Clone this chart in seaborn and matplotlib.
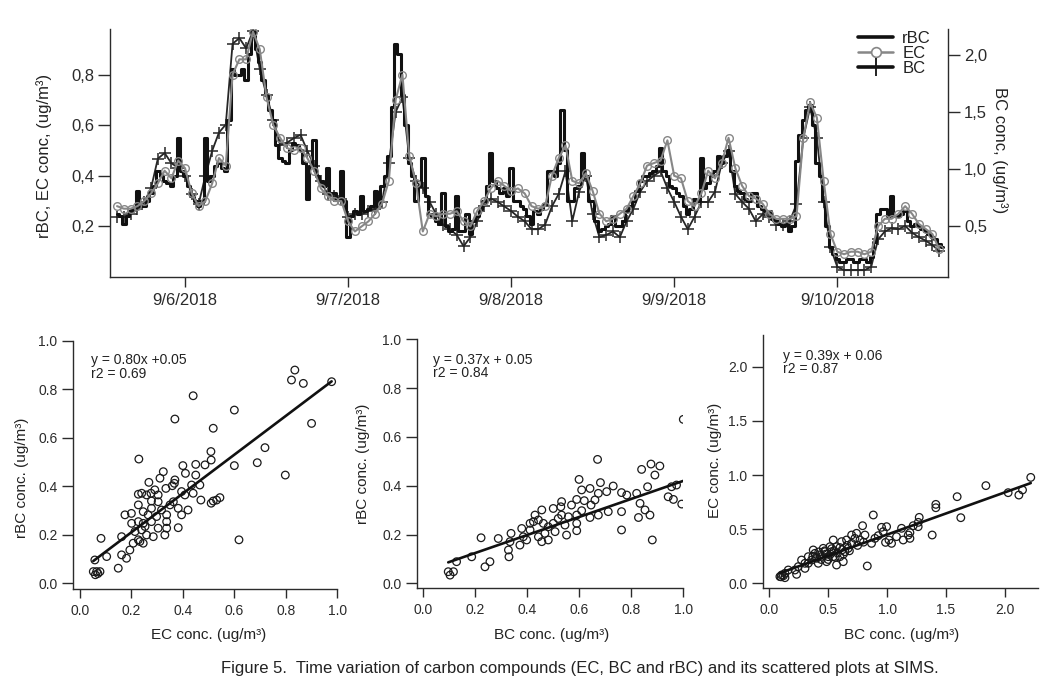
import numpy as np
import pandas as pd
import matplotlib
matplotlib.use("Agg")
import matplotlib.pyplot as plt
import matplotlib.dates as mdates
from matplotlib.lines import Line2D
from matplotlib.ticker import FixedLocator, FuncFormatter
import seaborn as sns

# ---------------- data ----------------
start_time = "2018-09-05 14:00"   # EC and BC hourly (122 pts), rBC half-hourly (244 pts)

rbc = [0.25, 0.24, 0.21, 0.24, 0.26, 0.27, 0.34, 0.28, 0.28, 0.30,
       0.33, 0.36, 0.42, 0.40, 0.38, 0.37, 0.36, 0.40, 0.55, 0.42,
       0.40, 0.36, 0.32, 0.30, 0.28, 0.30, 0.55, 0.38, 0.40, 0.44,
       0.45, 0.43, 0.42, 0.62, 0.82, 0.80, 0.80, 0.82, 0.78, 0.88,
       0.97, 0.90, 0.85, 0.78, 0.72, 0.66, 0.62, 0.52, 0.47, 0.46,
       0.45, 0.50, 0.53, 0.52, 0.50, 0.45, 0.31, 0.44, 0.54, 0.40,
       0.38, 0.36, 0.43, 0.33, 0.33, 0.31, 0.42, 0.30, 0.16, 0.24,
       0.26, 0.25, 0.32, 0.26, 0.27, 0.28, 0.34, 0.28, 0.36, 0.40,
       0.48, 0.67, 0.92, 0.88, 0.72, 0.60, 0.45, 0.40, 0.30, 0.36,
       0.47, 0.32, 0.25, 0.24, 0.22, 0.21, 0.33, 0.20, 0.18, 0.19,
       0.32, 0.18, 0.18, 0.25, 0.17, 0.22, 0.24, 0.27, 0.30, 0.36,
       0.49, 0.38, 0.35, 0.33, 0.35, 0.32, 0.43, 0.30, 0.30, 0.28,
       0.27, 0.24, 0.21, 0.26, 0.25, 0.27, 0.29, 0.42, 0.42, 0.40,
       0.45, 0.66, 0.50, 0.30, 0.30, 0.35, 0.36, 0.49, 0.40, 0.30,
       0.30, 0.22, 0.18, 0.19, 0.20, 0.21, 0.24, 0.20, 0.20, 0.22,
       0.26, 0.28, 0.30, 0.34, 0.38, 0.40, 0.40, 0.41, 0.42, 0.44,
       0.51, 0.42, 0.40, 0.36, 0.35, 0.33, 0.32, 0.28, 0.25, 0.27,
       0.31, 0.30, 0.47, 0.35, 0.37, 0.40, 0.42, 0.48, 0.45, 0.48,
       0.50, 0.42, 0.36, 0.34, 0.33, 0.31, 0.30, 0.33, 0.33, 0.28,
       0.27, 0.26, 0.26, 0.23, 0.22, 0.21, 0.20, 0.21, 0.18, 0.20,
       0.46, 0.56, 0.62, 0.66, 0.68, 0.60, 0.45, 0.40, 0.30, 0.20,
       0.12, 0.09, 0.07, 0.06, 0.06, 0.07, 0.07, 0.06, 0.06, 0.07,
       0.07, 0.06, 0.08, 0.14, 0.25, 0.27, 0.27, 0.24, 0.32, 0.24,
       0.24, 0.25, 0.26, 0.22, 0.20, 0.21, 0.20, 0.19, 0.18, 0.17,
       0.16, 0.15, 0.13, 0.12]

ec = [0.28, 0.27, 0.27, 0.28, 0.30, 0.33, 0.37, 0.42, 0.39, 0.46,
      0.43, 0.33, 0.28, 0.30, 0.37, 0.47, 0.44, 0.80, 0.86, 0.86,
      0.97, 0.90, 0.71, 0.60, 0.55, 0.51, 0.50, 0.51, 0.47, 0.42,
      0.35, 0.32, 0.30, 0.30, 0.22, 0.18, 0.20, 0.22, 0.25, 0.29,
      0.38, 0.70, 0.80, 0.48, 0.37, 0.18, 0.25, 0.24, 0.25, 0.25,
      0.26, 0.22, 0.20, 0.26, 0.30, 0.35, 0.38, 0.36, 0.34, 0.35,
      0.33, 0.28, 0.27, 0.28, 0.40, 0.47, 0.52, 0.38, 0.37, 0.41,
      0.34, 0.25, 0.22, 0.23, 0.25, 0.27, 0.32, 0.37, 0.44, 0.45,
      0.46, 0.54, 0.40, 0.39, 0.30, 0.28, 0.33, 0.42, 0.39, 0.45,
      0.55, 0.43, 0.36, 0.32, 0.31, 0.29, 0.25, 0.23, 0.23, 0.23,
      0.24, 0.55, 0.69, 0.63, 0.38, 0.17, 0.10, 0.09, 0.10, 0.10,
      0.09, 0.10, 0.20, 0.23, 0.23, 0.25, 0.28, 0.25, 0.21, 0.19,
      0.17, 0.11]

bc = [0.58, 0.58, 0.60, 0.65, 0.71, 0.83, 1.09, 1.14, 1.05, 1.01,
      0.94, 0.78, 0.69, 0.94, 1.16, 1.32, 1.39, 2.10, 2.15, 2.06,
      2.21, 1.88, 1.65, 1.43, 1.21, 1.23, 1.27, 1.30, 1.16, 1.03,
      0.89, 0.78, 0.76, 0.74, 0.58, 0.60, 0.60, 0.63, 0.65, 0.71,
      1.05, 1.50, 1.63, 1.10, 0.89, 0.83, 0.71, 0.60, 0.51, 0.47,
      0.42, 0.32, 0.40, 0.54, 0.67, 0.74, 0.71, 0.67, 0.63, 0.58,
      0.54, 0.47, 0.47, 0.51, 0.67, 0.78, 0.98, 0.54, 0.80, 0.94,
      0.60, 0.40, 0.42, 0.45, 0.40, 0.54, 0.65, 0.80, 0.89, 0.94,
      0.98, 0.83, 0.71, 0.58, 0.47, 0.58, 0.71, 0.71, 0.80, 1.05,
      1.16, 0.78, 0.71, 0.65, 0.54, 0.60, 0.58, 0.51, 0.51, 0.54,
      0.69, 1.27, 1.54, 1.27, 0.71, 0.31, 0.14, 0.11, 0.11, 0.11,
      0.11, 0.14, 0.38, 0.45, 0.48, 0.47, 0.50, 0.44, 0.40, 0.37,
      0.33, 0.28]

date_ticks = ["2018-09-06", "2018-09-07", "2018-09-08", "2018-09-09", "2018-09-10"]
left_ticks = [0.2, 0.4, 0.6, 0.8]
right_ticks = [0.5, 1.0, 1.5, 2.0]

# scatter 1: EC (x) vs rBC (y)
sc1_ec = [0.44, 0.60, 0.369, 0.518, 0.509, 0.229, 0.51, 0.486, 0.60, 0.45,
          0.40, 0.41, 0.45, 0.466, 0.434, 0.369, 0.311, 0.268, 0.359, 0.334,
          0.291, 0.24, 0.276, 0.304, 0.408, 0.44, 0.47, 0.51, 0.531, 0.544,
          0.227, 0.278, 0.304, 0.363, 0.382, 0.42, 0.395, 0.20, 0.175, 0.246,
          0.265, 0.298, 0.337, 0.227, 0.201, 0.246, 0.278, 0.304, 0.337, 0.382,
          0.33, 0.214, 0.24, 0.259, 0.285, 0.227, 0.246, 0.207, 0.162, 0.082,
          0.194, 0.162, 0.181, 0.149, 0.104, 0.058, 0.065, 0.078, 0.052, 0.618,
          0.518, 0.227, 0.324, 0.367, 0.395, 0.835, 0.822, 0.868, 0.978, 0.90,
          0.719, 0.689, 0.798, 0.278, 0.317, 0.259, 0.35, 0.253, 0.233, 0.337,
          0.07, 0.06]
sc1_rbc = [0.773, 0.714, 0.677, 0.639, 0.543, 0.512, 0.508, 0.488, 0.485, 0.49,
           0.485, 0.453, 0.446, 0.405, 0.405, 0.426, 0.433, 0.416, 0.402, 0.391,
           0.385, 0.371, 0.371, 0.364, 0.364, 0.371, 0.343, 0.33, 0.343, 0.353,
           0.323, 0.339, 0.336, 0.336, 0.309, 0.302, 0.282, 0.288, 0.282, 0.295,
           0.282, 0.275, 0.282, 0.254, 0.247, 0.247, 0.254, 0.227, 0.254, 0.229,
           0.199, 0.213, 0.22, 0.199, 0.192, 0.179, 0.165, 0.165, 0.192, 0.185,
           0.137, 0.117, 0.103, 0.062, 0.11, 0.096, 0.048, 0.048, 0.048, 0.179,
           0.339, 0.367, 0.46, 0.412, 0.378, 0.879, 0.838, 0.824, 0.831, 0.659,
           0.559, 0.497, 0.446, 0.309, 0.302, 0.364, 0.323, 0.234, 0.172, 0.227,
           0.04, 0.035]

# scatter 2: BC (x) vs rBC (y)
sc2_bc = [0.671, 0.84, 0.876, 0.91, 0.891, 0.60, 0.682, 0.731, 0.642, 0.61,
          0.674, 0.706, 0.763, 0.783, 0.821, 0.863, 0.955, 0.974, 0.942, 0.962,
          0.994, 0.834, 0.853, 0.828, 0.872, 0.763, 0.763, 0.881, 0.533, 0.53,
          0.571, 0.591, 0.62, 0.646, 0.661, 0.674, 0.712, 0.642, 0.61, 0.591,
          0.559, 0.52, 0.533, 0.457, 0.431, 0.444, 0.425, 0.463, 0.501, 0.546,
          0.591, 0.591, 0.552, 0.508, 0.482, 0.469, 0.444, 0.457, 0.482, 0.412,
          0.38, 0.386, 0.373, 0.339, 0.335, 0.329, 0.331, 0.29, 0.224, 0.188,
          0.239, 0.258, 0.13, 0.098, 0.118, 0.105, 0.399, 0.501, 0.412, 1.0]
sc2_rbc = [0.508, 0.467, 0.489, 0.481, 0.444, 0.426, 0.413, 0.399, 0.389, 0.383,
           0.369, 0.376, 0.372, 0.362, 0.369, 0.396, 0.396, 0.403, 0.355, 0.344,
           0.325, 0.328, 0.301, 0.27, 0.28, 0.294, 0.219, 0.178, 0.335, 0.314,
           0.321, 0.344, 0.339, 0.321, 0.342, 0.28, 0.294, 0.27, 0.298, 0.28,
           0.273, 0.266, 0.28, 0.301, 0.28, 0.26, 0.253, 0.246, 0.246, 0.239,
           0.246, 0.216, 0.198, 0.212, 0.232, 0.205, 0.191, 0.171, 0.178, 0.219,
           0.225, 0.191, 0.157, 0.205, 0.171, 0.137, 0.109, 0.184, 0.187, 0.109,
           0.068, 0.089, 0.089, 0.048, 0.048, 0.034, 0.178, 0.307, 0.246, 0.672]

# scatter 3: BC (x) vs EC (y)
sc3_bc = [2.22, 1.839, 2.028, 2.119, 2.15, 1.595, 1.626, 1.414, 1.414, 1.383,
          1.273, 1.264, 1.194, 1.123, 0.883, 0.792, 0.832, 0.953, 1.265, 1.222,
          1.194, 1.08, 1.038, 1.016, 0.987, 0.967, 0.925, 0.996, 0.812, 0.77,
          0.727, 0.699, 0.67, 0.642, 0.614, 0.571, 0.543, 0.529, 0.50, 0.487,
          0.571, 0.60, 0.458, 0.43, 0.388, 0.359, 0.331, 0.303, 0.274, 0.246,
          0.218, 0.232, 0.161, 0.133, 0.105, 0.09, 0.133, 0.416, 0.515, 0.472,
          0.402, 0.373, 0.656, 0.741, 0.331, 0.543, 0.628, 0.303, 0.699, 0.868,
          0.897, 1.137, 1.18, 0.45, 0.48, 0.52, 0.55, 0.58, 0.62, 0.40,
          0.44, 0.50, 0.56, 0.63, 0.66, 0.42, 0.37, 0.53, 0.60, 0.68,
          0.75, 0.80, 0.47, 0.12, 0.10]
sc3_ec = [0.978, 0.902, 0.837, 0.815, 0.862, 0.80, 0.606, 0.729, 0.698, 0.446,
          0.609, 0.523, 0.468, 0.508, 0.631, 0.532, 0.16, 0.517, 0.563, 0.532,
          0.415, 0.431, 0.369, 0.40, 0.378, 0.477, 0.44, 0.523, 0.446, 0.40,
          0.415, 0.369, 0.323, 0.292, 0.385, 0.338, 0.40, 0.292, 0.246, 0.20,
          0.169, 0.246, 0.323, 0.262, 0.277, 0.215, 0.246, 0.185, 0.215, 0.154,
          0.123, 0.083, 0.123, 0.092, 0.077, 0.062, 0.052, 0.185, 0.338, 0.292,
          0.231, 0.308, 0.40, 0.462, 0.185, 0.246, 0.20, 0.138, 0.446, 0.369,
          0.415, 0.40, 0.446, 0.25, 0.27, 0.27, 0.30, 0.28, 0.31, 0.24,
          0.22, 0.22, 0.24, 0.27, 0.35, 0.29, 0.25, 0.32, 0.33, 0.30,
          0.35, 0.38, 0.30, 0.07, 0.06]

fit_coefs = [(0.80, 0.05), (0.37, 0.05), (0.39, 0.06)]
fit_texts = ["y = 0.80x +0.05\nr2 = 0.69",
             "y = 0.37x + 0.05\nr2 = 0.84",
             "y = 0.39x + 0.06\nr2 = 0.87"]

caption = ("Figure 5.  Time variation of carbon compounds (EC, BC and rBC) "
           "and its scattered plots at SIMS.")

# ---------------- style ----------------
sns.set_style("ticks")
plt.rcParams["font.family"] = ["Liberation Sans", "DejaVu Sans"]
plt.rcParams["axes.edgecolor"] = "#2b2b2b"
plt.rcParams["axes.linewidth"] = 1.0
plt.rcParams["xtick.color"] = "#2b2b2b"
plt.rcParams["ytick.color"] = "#2b2b2b"
plt.rcParams["text.color"] = "#222222"
plt.rcParams["axes.labelcolor"] = "#222222"

W, H = 1059, 697
fig = plt.figure(figsize=(W / 100, H / 100), dpi=100)


def frac_box(l, t, r, b):
    return [l / W, 1 - b / H, (r - l) / W, (b - t) / H]


# ---------------- time series ----------------
times = pd.date_range(start_time, periods=len(ec), freq="h")
times_rbc = pd.date_range(start_time, periods=len(rbc), freq="30min")
df = pd.DataFrame({"time": times, "EC": ec, "BC": bc})
df_rbc = pd.DataFrame({"time": times_rbc, "rBC": rbc})

ax1 = fig.add_axes(frac_box(110, 29, 948, 277))
ax2 = ax1.twinx()
ax1.set_zorder(ax2.get_zorder() + 1)
ax1.patch.set_visible(False)

sns.lineplot(data=df, x="time", y="BC", ax=ax2, color="#262626", lw=1.3,
             marker="+", markersize=8, markeredgewidth=1.1,
             markeredgecolor="#262626", errorbar=None)
sns.lineplot(data=df_rbc, x="time", y="rBC", ax=ax1, color="#111111", lw=2.2,
             drawstyle="steps-mid", errorbar=None)
sns.lineplot(data=df, x="time", y="EC", ax=ax1, color="#878787", lw=1.5,
             marker="o", markersize=5.5, markerfacecolor="none",
             markeredgecolor="#878787", markeredgewidth=1.0, errorbar=None)

day0 = pd.Timestamp("2018-09-06")
ax1.set_xlim(day0 + pd.Timedelta(hours=-11.04), day0 + pd.Timedelta(hours=112.3))
ax1.set_ylim(0.0, 0.98)
ax2.set_ylim(0.05, 2.23)

ax1.xaxis.set_major_locator(FixedLocator(mdates.date2num(pd.to_datetime(date_ticks))))
ax1.xaxis.set_major_formatter(mdates.DateFormatter("%-m/%-d/%Y"))
comma = FuncFormatter(lambda v, p: f"{v:.1f}".replace(".", ","))
ax1.yaxis.set_major_locator(FixedLocator(left_ticks))
ax1.yaxis.set_major_formatter(comma)
ax2.yaxis.set_major_locator(FixedLocator(right_ticks))
ax2.yaxis.set_major_formatter(comma)

for side in ["top", "right"]:
    ax1.spines[side].set_visible(False)
for side in ["top", "left", "bottom"]:
    ax2.spines[side].set_visible(False)

ax1.tick_params(axis="y", direction="out", length=8.5, width=1.0, pad=3, labelsize=12)
ax1.tick_params(axis="x", direction="out", length=7.5, width=1.0, pad=4, labelsize=12)
ax2.tick_params(axis="y", direction="out", length=8.5, width=1.0, pad=3, labelsize=12)

ax1.set_xlabel("")
ax1.set_ylabel("rBC, EC conc, (ug/m³)", fontsize=12)
ax1.yaxis.set_label_coords(-0.069, 0.49)
ax2.set_ylabel("BC conc, (ug/m³)", fontsize=12, rotation=270, va="center")
ax2.yaxis.set_label_coords(1.062, 0.51)

handles = [
    Line2D([], [], color="#111111", lw=2.6),
    Line2D([], [], color="#878787", lw=1.8, marker="o", markersize=7,
           markerfacecolor="white", markeredgecolor="#878787", markeredgewidth=1.2),
    Line2D([], [], color="#111111", lw=2.6, marker="+", markersize=13,
           markeredgewidth=1.3, markeredgecolor="#111111"),
]
ax1.legend(handles, ["rBC", "EC", "BC"], loc="upper left",
           bbox_to_anchor=(858 / W, 1 - 31 / H), bbox_transform=fig.transFigure,
           frameon=False, fontsize=12, handlelength=2.1, handletextpad=0.55,
           labelspacing=0.0, borderpad=0, borderaxespad=0, numpoints=1)

# ---------------- scatter plots ----------------
scatter_specs = [
    dict(box=(72.7, 340.7, 337.3, 589.3), x=sc1_ec, y=sc1_rbc,
         xlim=(-0.028, 1.0), ylim=(-0.025, 1.0),
         xticks=[0.0, 0.2, 0.4, 0.6, 0.8, 1.0], yticks=[0.0, 0.2, 0.4, 0.6, 0.8, 1.0],
         xlabel="EC conc. (ug/m³)", ylabel="rBC conc. (ug/m³)",
         xl=(0.515, -0.156), yl=(-0.165, 0.45), txt=(0.068, 0.95)),
    dict(box=(416.7, 339.3, 683.3, 588.3), x=sc2_bc, y=sc2_rbc,
         xlim=(-0.023, 1.0), ylim=(-0.02, 1.0),
         xticks=[0.0, 0.2, 0.4, 0.6, 0.8, 1.0], yticks=[0.0, 0.2, 0.4, 0.6, 0.8, 1.0],
         xlabel="BC conc. (ug/m³)", ylabel="rBC conc. (ug/m³)",
         xl=(0.506, -0.159), yl=(-0.175, 0.5), txt=(0.06, 0.945)),
    dict(box=(762.7, 335.0, 1038.3, 588.3), x=sc3_bc, y=sc3_ec,
         xlim=(-0.056, 2.284), ylim=(-0.046, 2.293),
         xticks=[0.0, 0.5, 1.0, 1.5, 2.0], yticks=[0.0, 0.5, 1.0, 1.5, 2.0],
         xlabel="BC conc. (ug/m³)", ylabel="EC conc. (ug/m³)",
         xl=(0.504, -0.157), yl=(-0.148, 0.506), txt=(0.075, 0.945)),
]

for spec, (slope, icpt), txt in zip(scatter_specs, fit_coefs, fit_texts):
    ax = fig.add_axes(frac_box(*spec["box"]))
    sns.scatterplot(x=spec["x"], y=spec["y"], ax=ax, marker="o", s=30,
                    facecolor="none", edgecolor="#1a1a1a", linewidth=0.9)
    xs = np.array([min(spec["x"]), max(spec["x"])])
    sns.lineplot(x=xs, y=slope * xs + icpt, ax=ax, color="#111111", lw=1.9,
                 errorbar=None)
    ax.set_xlim(*spec["xlim"])
    ax.set_ylim(*spec["ylim"])
    ax.xaxis.set_major_locator(FixedLocator(spec["xticks"]))
    ax.yaxis.set_major_locator(FixedLocator(spec["yticks"]))
    ax.xaxis.set_major_formatter(FuncFormatter(lambda v, p: f"{v:.1f}"))
    ax.yaxis.set_major_formatter(FuncFormatter(lambda v, p: f"{v:.1f}"))
    for side in ["top", "right"]:
        ax.spines[side].set_visible(False)
    ax.tick_params(axis="y", direction="out", length=8, width=1.0, pad=3, labelsize=10)
    ax.tick_params(axis="x", direction="out", length=6.5, width=1.0, pad=4, labelsize=10)
    ax.set_xlabel(spec["xlabel"], fontsize=11)
    ax.set_ylabel(spec["ylabel"], fontsize=11)
    ax.xaxis.set_label_coords(*spec["xl"])
    ax.yaxis.set_label_coords(*spec["yl"])
    ax.text(spec["txt"][0], spec["txt"][1], txt, transform=ax.transAxes,
            ha="left", va="top", fontsize=10, linespacing=0.95)

fig.text(579.5 / W, 1 - 669 / H, caption, ha="center", va="center", fontsize=12)

fig.savefig("out.png", dpi=100)
